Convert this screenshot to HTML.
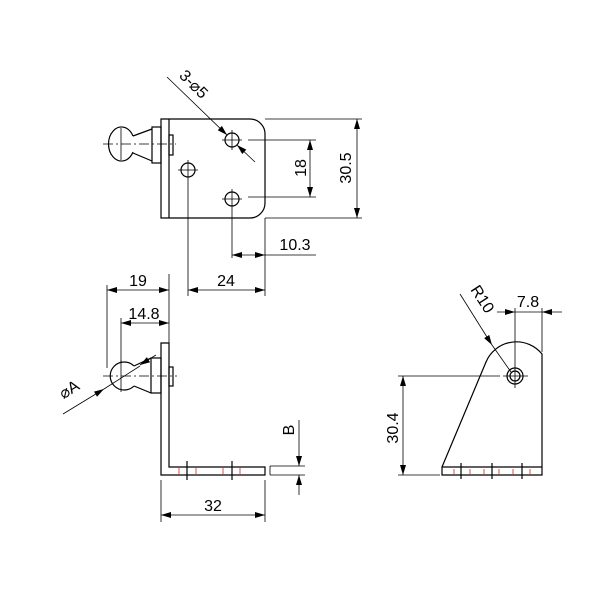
<!DOCTYPE html>
<html><head><style>html,body{margin:0;padding:0;background:#fff}svg{display:block}text{font-family:"Liberation Sans",sans-serif;font-size:16px;fill:#000}</style></head>
<body>
<svg width="600" height="600" viewBox="0 0 600 600" xmlns="http://www.w3.org/2000/svg">
<defs>
<marker id="a" viewBox="0 0 10 6" refX="10" refY="3" markerWidth="10" markerHeight="6" orient="auto-start-reverse" markerUnits="userSpaceOnUse"><path d="M0,0 L10,3 L0,6 z" fill="#000"/></marker>
</defs>
<g fill="none" stroke="#000" stroke-width="1.2">
<path d="M161,119 H250 A15,15 0 0 1 265,134 V203 A15,15 0 0 1 250,218 H161 Z"/>
<line x1="169" y1="119" x2="169" y2="218"/>
<rect x="169" y="135" width="4" height="20"/>
<rect x="152" y="127" width="9" height="36"/>
<path d="M152,129 L133,136 M152,161 L133,153"/>
<path d="M133,136 A13,17 0 1 0 133,152"/>
<g stroke-width="0.8"><line x1="103" y1="144" x2="176" y2="144" stroke-dasharray="10,3,2,3"/><line x1="121" y1="128" x2="121" y2="160"/></g>
<circle cx="232" cy="140" r="7"/><circle cx="188" cy="170" r="7"/><circle cx="232" cy="199" r="7"/>
<g stroke-width="0.8">
<path d="M222,140 H242 M232,130 V150 M178,170 H198 M188,160 V180 M222,199 H242 M232,189 V209"/>
<path d="M248,140 H316 M248,197 H316 M265,119 H362 M265,218 H362"/>
<line x1="310" y1="140" x2="310" y2="197" marker-start="url(#a)" marker-end="url(#a)"/>
<line x1="357" y1="119" x2="357" y2="218" marker-start="url(#a)" marker-end="url(#a)"/>
<path d="M232,209 V258 M265,218 V296 M188,180 V296"/>
<line x1="232" y1="255" x2="265" y2="255" marker-start="url(#a)" marker-end="url(#a)"/>
<line x1="265" y1="255" x2="316" y2="255"/>
<line x1="188" y1="290" x2="265" y2="290" marker-start="url(#a)" marker-end="url(#a)"/>
<line x1="167" y1="77" x2="227" y2="135" marker-end="url(#a)"/>
<line x1="255" y1="162" x2="237" y2="145" marker-end="url(#a)"/>
</g>
<path d="M161,343 H169 V467 H265 V475 H161 Z"/>
<rect x="169" y="367" width="4" height="19"/>
<rect x="151" y="358" width="10" height="35"/>
<path d="M151,358 L134,366 M151,393 L134,386"/>
<path d="M134,366 A14,14 0 1 0 134,386"/>
<g stroke-width="0.8"><line x1="103" y1="376" x2="177" y2="376" stroke-dasharray="10,3,2,3"/><line x1="121" y1="360" x2="121" y2="392"/></g>
<path d="M187,461 V480 M232,461 V480"/>
<path d="M179,468 V474 M196,468 V474 M223,468 V474 M240,468 V474" stroke="#d22" stroke-width="0.8"/>
<g stroke-width="0.8">
<path d="M107,285 V368 M169,274 V343 M121,318 V362"/>
<line x1="107" y1="290" x2="169" y2="290" marker-start="url(#a)" marker-end="url(#a)"/>
<line x1="121" y1="323" x2="169" y2="323" marker-start="url(#a)" marker-end="url(#a)"/>
<line x1="63" y1="414" x2="104" y2="389" marker-end="url(#a)"/>
<line x1="104" y1="389" x2="140" y2="366"/>
<line x1="156" y1="355" x2="140" y2="365" marker-end="url(#a)"/>
<path d="M270,466 V475 M270,466 H305 M270,475 H305"/>
<line x1="299" y1="420" x2="299" y2="466" marker-end="url(#a)"/>
<line x1="299" y1="495" x2="299" y2="475" marker-end="url(#a)"/>
<path d="M161,480 V522 M265,480 V522"/>
<line x1="161" y1="515" x2="265" y2="515" marker-start="url(#a)" marker-end="url(#a)"/>
</g>
<path d="M442,467 L486,362 A33,33 0 0 1 542,354 V475 H442 Z"/>
<line x1="442" y1="467" x2="542" y2="467"/>
<circle cx="515" cy="376" r="8"/><circle cx="515" cy="376" r="5"/>
<path d="M461,463 V479 M492,463 V479 M522,463 V479"/>
<path d="M454,469 V474 M470,469 V474 M484,469 V474 M499,469 V474 M513,469 V474 M530,469 V474" stroke="#d22" stroke-width="0.8"/>
<g stroke-width="0.8">
<path d="M503,376 H528 M515,308 V388 M542,308 V352"/>
<path d="M398,376 H500 M398,475 H440"/>
<line x1="403" y1="376" x2="403" y2="475" marker-start="url(#a)" marker-end="url(#a)"/>
<line x1="497" y1="312" x2="515" y2="312" marker-end="url(#a)"/>
<line x1="562" y1="312" x2="542" y2="312" marker-end="url(#a)"/>
<line x1="515" y1="312" x2="542" y2="312"/>
<line x1="460" y1="294" x2="492" y2="345" marker-end="url(#a)"/>
<line x1="492" y1="345" x2="511" y2="372"/>
</g>
</g>
<text x="300" y="168" text-anchor="middle" transform="rotate(-90 300 168)" dy="6">18</text>
<text x="345" y="168" text-anchor="middle" transform="rotate(-90 345 168)" dy="6">30.5</text>
<text x="295" y="250" text-anchor="middle">10.3</text>
<text x="226" y="286" text-anchor="middle">24</text>
<text x="190" y="88" text-anchor="middle" transform="rotate(45 190 88)">3-⌀5</text>
<text x="138" y="286" text-anchor="middle">19</text>
<text x="144" y="319" text-anchor="middle">14.8</text>
<text x="72" y="394" text-anchor="middle" transform="rotate(-32 72 394)">⌀A</text>
<text x="288" y="430" text-anchor="middle" transform="rotate(-90 288 430)" dy="6">B</text>
<text x="213" y="511" text-anchor="middle">32</text>
<text x="392" y="428" text-anchor="middle" transform="rotate(-90 392 428)" dy="6">30.4</text>
<text x="528" y="307" text-anchor="middle">7.8</text>
<text x="478" y="302" text-anchor="middle" transform="rotate(57 478 302)">R10</text>
</svg>
</body></html>
